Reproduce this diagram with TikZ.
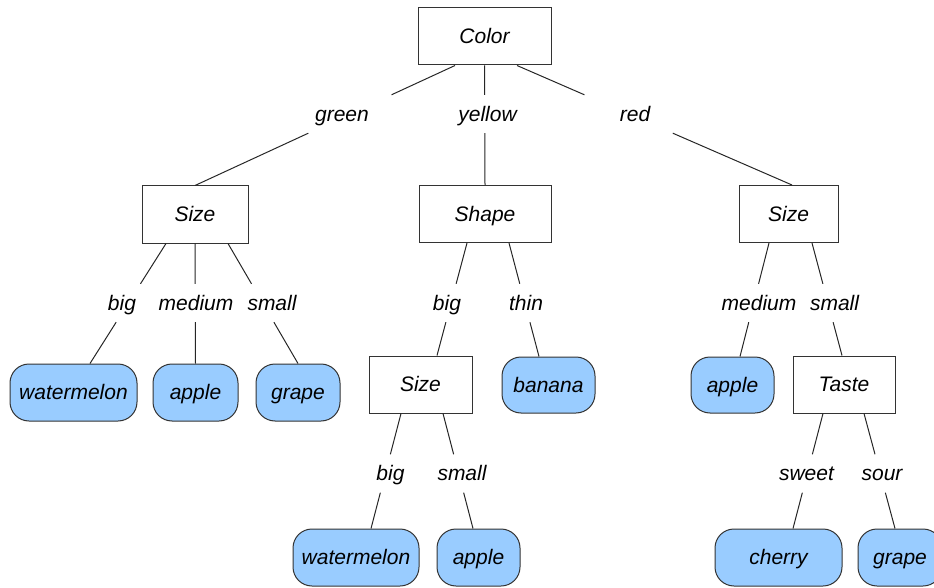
\documentclass[tikz,border=0pt]{standalone}
\usepackage{fontspec}
\setmainfont{Liberation Sans}
\usetikzlibrary{calc}

\definecolor{leafblue}{HTML}{99CCFF}
\definecolor{boxline}{HTML}{333333}

% A branch runs straight from a point on the parent to a point on the child
% and is broken where it crosses the band taken by its label.
\newcommand\branch[3]{%
  \draw[edge] let \p1=(#1), \p2=(#2), \p3=(#3.north), \p4=(#3.south) in
    (#1) -- ({\x1+(\x2-\x1)*((\y3-\y1)/(\y2-\y1))}, \y3)
    ({\x1+(\x2-\x1)*((\y4-\y1)/(\y2-\y1))}, \y4) -- (#2);
}

\begin{document}
\begin{tikzpicture}[x=1pt,y=-1pt,
  every node/.style={font=\fontsize{21}{25}\selectfont\itshape,
    text height=19pt, text depth=4.5pt, inner sep=0pt},
  test/.style={draw=boxline, line width=1pt, fill=white, minimum height=57pt},
  leaf/.style={draw=boxline, line width=1pt, fill=leafblue,
    rounded corners=19pt, minimum height=57pt},
  branchlabel/.style={inner ysep=7.25pt, inner xsep=0pt},
  edge/.style={line width=1pt, draw=black!85}]
\useasboundingbox (0,0) rectangle (934,588);

% attribute tests
\node[test, minimum width=133pt] (color) at (484.5,36.5) {Color};
\node[test, minimum width=106pt] (sizeL) at (195,214.5) {Size};
\node[test, minimum width=132pt] (shape) at (485,214) {Shape};
\node[test, minimum width=99pt]  (sizeR) at (788.5,214) {Size};
\node[test, minimum width=103pt] (sizeM) at (420.5,384.5) {Size};
\node[test, minimum width=102pt] (taste) at (844,384.5) {Taste};

% leaves
\node[leaf, minimum width=127pt] (melonA) at (73.5,392.5) {watermelon};
\node[leaf, minimum width=85pt]  (appleA) at (195.5,392.5) {apple};
\node[leaf, minimum width=84pt]  (grapeA) at (298,392.5) {grape};
\node[leaf, minimum width=93pt, minimum height=56pt] (banana) at (548.5,385) {banana};
\node[leaf, minimum width=83pt, minimum height=56pt] (appleC) at (732.5,385) {apple};
\node[leaf, minimum width=126pt] (melonB) at (356,557.5) {watermelon};
\node[leaf, minimum width=83pt]  (appleB) at (478.5,557.5) {apple};
\node[leaf, minimum width=127pt] (cherry) at (778.5,557.5) {cherry};
\node[leaf, minimum width=84pt]  (grapeB) at (900,557.5) {grape};

% branch labels
\node[branchlabel] (lgreen)  at (342,114)   {green};
\node[branchlabel] (lyellow) at (487.5,114) {yellow};
\node[branchlabel] (lred)    at (635,114)   {red};
\node[branchlabel] (lbigA)   at (122,303)   {big};
\node[branchlabel] (lmedA)   at (196,303)   {medium};
\node[branchlabel] (lsmallA) at (272,303)   {small};
\node[branchlabel] (lbigB)   at (447,303)   {big};
\node[branchlabel] (lthin)   at (526,303)   {thin};
\node[branchlabel] (lmedC)   at (759,303)   {medium};
\node[branchlabel] (lsmallC) at (834.5,303) {small};
\node[branchlabel] (lbigD)   at (390.5,473.5) {big};
\node[branchlabel] (lsmallD) at (462,473.5) {small};
\node[branchlabel] (lsweet)  at (806.5,473.5) {sweet};
\node[branchlabel] (lsour)   at (882,473.5) {sour};

% branches
\branch{[xshift=-29.5pt]color.south}{sizeL.north}{lgreen}
\branch{color.south}{shape.north}{lyellow}
\branch{[xshift=32.5pt]color.south}{[xshift=3.5pt]sizeR.north}{lred}
\branch{[xshift=-29pt]sizeL.south}{[xshift=16.5pt]melonA.north}{lbigA}
\branch{sizeL.south}{appleA.north}{lmedA}
\branch{[xshift=33pt]sizeL.south}{grapeA.north}{lsmallA}
\branch{[xshift=-18pt]shape.south}{[xshift=16.5pt]sizeM.north}{lbigB}
\branch{[xshift=24pt]shape.south}{[xshift=-9.5pt]banana.north}{lthin}
\branch{[xshift=-19.5pt]sizeR.south}{[xshift=7.5pt]appleC.north}{lmedC}
\branch{[xshift=23.5pt]sizeR.south}{[xshift=-2pt]taste.north}{lsmallC}
\branch{[xshift=-19.5pt]sizeM.south}{[xshift=15pt]melonB.north}{lbigD}
\branch{[xshift=22.5pt]sizeM.south}{[xshift=-5.5pt]appleB.north}{lsmallD}
\branch{[xshift=-21pt]taste.south}{[xshift=14.5pt]cherry.north}{lsweet}
\branch{[xshift=20pt]taste.south}{[xshift=-5pt]grapeB.north}{lsour}
\end{tikzpicture}
\end{document}
